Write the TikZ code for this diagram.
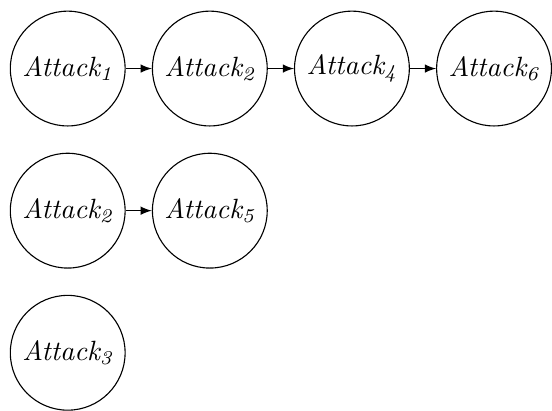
\documentclass[tikz,border=0pt]{standalone}
\usepackage{tikz}
\usetikzlibrary{positioning}

\begin{document}
\begin{tikzpicture}[attack/.style={draw,circle,minimum size=41.2pt,inner sep=0pt},node distance=9.4pt]
\node [attack] (a1) at (0,0) {\textit{Attack\textsubscript{1}}};
\node [attack,right=of a1] (a2) {\textit{Attack\textsubscript{2}}};
\node [attack,right=of a2] (a4) {\textit{Attack\textsubscript{4}}};
\node [attack,right=of a4] (a6) {\textit{Attack\textsubscript{6}}};
\node [attack,below=of a1] (b2) {\textit{Attack\textsubscript{2}}};
\node [attack,right=of b2] (b5) {\textit{Attack\textsubscript{5}}};
\node [attack,below=of b2] (c3) {\textit{Attack\textsubscript{3}}};
\draw [-latex] (a1) -- (a2);
\draw [-latex] (a2) -- (a4);
\draw [-latex] (a4) -- (a6);
\draw [-latex] (b2) -- (b5);
\useasboundingbox ([xshift=-24.3pt,yshift=24.6pt]a1.center) rectangle ++(194.4pt,-145.8pt);
\end{tikzpicture}
\end{document}
